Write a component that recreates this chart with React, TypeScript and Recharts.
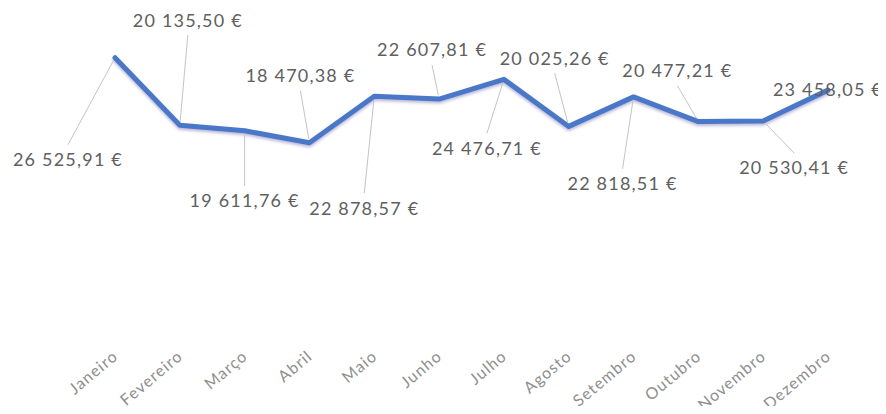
import { LineChart, Line, XAxis, YAxis, LabelList } from 'recharts';

const months = [
  'Janeiro', 'Fevereiro', 'Março', 'Abril', 'Maio', 'Junho',
  'Julho', 'Agosto', 'Setembro', 'Outubro', 'Novembro', 'Dezembro',
];
const revenue = [
  26525.91, 20135.5, 19611.76, 18470.38, 22878.57, 22607.81,
  24476.71, 20025.26, 22818.51, 20477.21, 20530.41, 23458.05,
];
// where each value label sits relative to its point (dx, dy)
const labelOffsets = [
  [-47, 102], [8, -105], [0, 70], [-9, -67], [-10, 112], [-7, -49],
  [-17, 69], [-14, -68], [-11, 87], [-21, -51], [31, 47], [0, 0],
];

const data = months.map((m, i) => ({ month: m, value: revenue[i] }));

const fmt = (v: number) => {
  const [int, dec] = v.toFixed(2).split('.');
  return int.replace(/\B(?=(\d{3})+(?!\d))/g, ' ') + ',' + dec + ' €';
};

const labelFont = "Lato, 'Open Sans', sans-serif";

const ValueLabel = (props: any) => {
  const { x, y, value } = props;
  let idx = props.index;
  if (idx === undefined) idx = revenue.indexOf(value);
  const [dx, dy] = labelOffsets[idx] || [0, 0];
  const cx = x + dx;
  const cy = y + dy;
  let leader = null;
  if (dx !== 0 || dy !== 0) {
    const sy = cy - Math.sign(dy) * 15;
    const sx = cx;
    const len = Math.hypot(x - sx, y - sy) || 1;
    const ex = x + ((sx - x) / len) * 4;
    const ey = y + ((sy - y) / len) * 4;
    leader = <line x1={sx} y1={sy} x2={ex} y2={ey} stroke="#c4c4c4" strokeWidth={1} />;
  }
  return (
    <g>
      {leader}
      <text
        x={cx}
        y={cy}
        dy="0.35em"
        textAnchor="middle"
        fill="#606060"
        fontSize={18}
        letterSpacing={1.2}
        fontFamily={labelFont}
      >
        {fmt(value)}
      </text>
    </g>
  );
};

const MonthTick = (props: any) => {
  const { x, y, payload } = props;
  const ax = x + 4;
  const ay = y + 12;
  return (
    <text
      x={ax}
      y={ay}
      textAnchor="end"
      fill="#8f8f8f"
      fontSize={16}
      letterSpacing={1.1}
      fontFamily={labelFont}
      transform={`rotate(-40, ${ax}, ${ay})`}
    >
      {payload.value}
    </text>
  );
};

export default function App() {
  return (
    <div style={{ margin: -8, background: '#fff' }}>
      <LineChart
        width={886}
        height={414}
        data={data}
        margin={{ top: 21, right: 58, bottom: 0, left: 115 }}
      >
        <defs>
          <filter id="lineShadow" x="-10%" y="-10%" width="120%" height="140%">
            <feDropShadow dx="0" dy="2" stdDeviation="1.6" floodColor="#8f86bd" floodOpacity="0.6" />
          </filter>
        </defs>
        <XAxis
          dataKey="month"
          axisLine={false}
          tickLine={false}
          interval={0}
          height={76}
          tick={<MonthTick />}
        />
        <YAxis hide domain={[0, 30000]} />
        <Line
          dataKey="value"
          stroke="#4a78c8"
          strokeWidth={5}
          strokeLinejoin="round"
          strokeLinecap="round"
          dot={false}
          activeDot={false}
          filter="url(#lineShadow)"
          isAnimationActive={false}
        >
          <LabelList dataKey="value" content={<ValueLabel />} />
        </Line>
      </LineChart>
    </div>
  );
}
